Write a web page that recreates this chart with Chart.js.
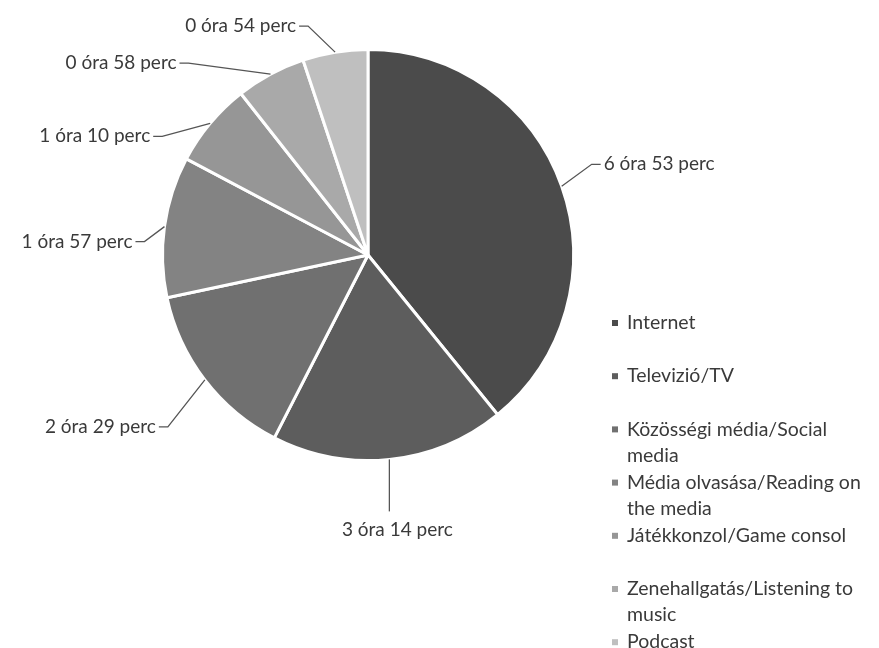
<!DOCTYPE html>
<html>
<head>
<meta charset="utf-8">
<script src="https://cdn.jsdelivr.net/npm/chart.js@4.4.0/dist/chart.umd.min.js"></script>
<style>
  html, body { margin: 0; background: #fff; }
  #wrap { width: 879px; height: 648px; }
</style>
</head>
<body>
<div id="wrap"><canvas id="chart" width="879" height="648"></canvas></div>
<script>
'use strict';

const categories = [
  'Internet',
  'Televizió/TV',
  'Közösségi média/Social media',
  'Média olvasása/Reading on the media',
  'Játékkonzol/Game consol',
  'Zenehallgatás/Listening to music',
  'Podcast'
];
// napi idő percben
const minutes = [413, 194, 149, 117, 70, 58, 54];
const colors = ['#4b4b4b', '#5d5d5d', '#707070', '#838383', '#969696', '#a9a9a9', '#bfbfbf'];

const FONT = 'Lato, "Liberation Sans", sans-serif';
const TEXT = '#3a3a3a';

function toLabel(m) {
  return Math.floor(m / 60) + ' óra ' + (m % 60) + ' perc';
}

// elbow of each leader line relative to the slice anchor
const leaderOffsets = [
  [30, -22, 'right'],
  [0, 52, 'below'],
  [-37, 47, 'left'],
  [-20, 15, 'left'],
  [-48, 13, 'left'],
  [-82, -11, 'left'],
  [-27, -26, 'left']
];

const outsideLabels = {
  id: 'outsideLabels',
  afterDraw(chart) {
    const ctx = chart.ctx;
    const meta = chart.getDatasetMeta(0);
    ctx.save();
    ctx.font = '19px ' + FONT;
    ctx.fillStyle = TEXT;
    ctx.strokeStyle = '#555';
    ctx.lineWidth = 1.3;
    meta.data.forEach((arc, i) => {
      const mid = (arc.startAngle + arc.endAngle) / 2;
      const ax = arc.x + arc.outerRadius * Math.cos(mid);
      const ay = arc.y + arc.outerRadius * Math.sin(mid);
      const [dx, dy, side] = leaderOffsets[i];
      const ex = ax + dx, ey = ay + dy;
      const text = toLabel(minutes[i]);
      ctx.beginPath();
      ctx.moveTo(ax, ay);
      ctx.lineTo(ex, ey);
      if (side === 'right') {
        ctx.lineTo(ex + 9, ey);
        ctx.stroke();
        ctx.textAlign = 'left';
        ctx.textBaseline = 'middle';
        ctx.fillText(text, ex + 12, ey);
      } else if (side === 'left') {
        ctx.lineTo(ex - 9, ey);
        ctx.stroke();
        ctx.textAlign = 'right';
        ctx.textBaseline = 'middle';
        ctx.fillText(text, ex - 12, ey);
      } else {
        ctx.stroke();
        ctx.textAlign = 'center';
        ctx.textBaseline = 'middle';
        ctx.fillText(text, ex + 8, ey + 18);
      }
    });
    ctx.restore();
  }
};

const sideLegend = {
  id: 'sideLegend',
  afterDraw(chart) {
    const ctx = chart.ctx;
    const x = 612, top = 323, step = 53.2, lineH = 26, maxW = 245;
    ctx.save();
    ctx.font = '19.5px ' + FONT;
    ctx.textAlign = 'left';
    ctx.textBaseline = 'middle';
    categories.forEach((name, i) => {
      const y = top + i * step;
      ctx.fillStyle = colors[i];
      ctx.fillRect(x, y - 3, 6, 6);
      ctx.fillStyle = TEXT;
      // simple word wrap
      const words = name.split(' ');
      const lines = [];
      let cur = '';
      words.forEach(w => {
        const test = cur ? cur + ' ' + w : w;
        if (ctx.measureText(test).width > maxW && cur) {
          lines.push(cur);
          cur = w;
        } else {
          cur = test;
        }
      });
      lines.push(cur);
      lines.forEach((ln, j) => ctx.fillText(ln, x + 15, y + j * lineH));
    });
    ctx.restore();
  }
};

const ctx = document.getElementById('chart').getContext('2d');
new Chart(ctx, {
  type: 'pie',
  data: {
    labels: categories,
    datasets: [{
      data: minutes,
      backgroundColor: colors,
      borderColor: '#ffffff',
      borderWidth: 3,
      hoverOffset: 0
    }]
  },
  options: {
    responsive: false,
    animation: false,
    devicePixelRatio: 1,
    layout: { padding: { left: 161, right: 304, top: 48, bottom: 186 } },
    plugins: {
      legend: { display: false },
      tooltip: { enabled: false }
    }
  },
  plugins: [outsideLabels, sideLegend]
});
</script>
</body>
</html>
